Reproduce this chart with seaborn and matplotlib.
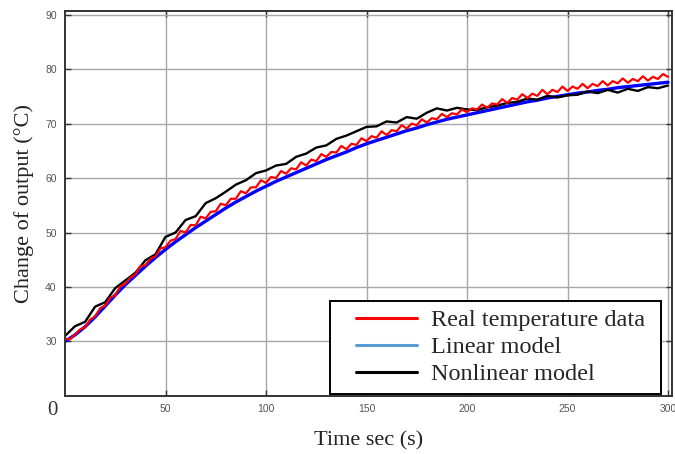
import numpy as np
import pandas as pd
import matplotlib
matplotlib.use("Agg")
import matplotlib.pyplot as plt
import seaborn as sns
from matplotlib.lines import Line2D
from matplotlib.legend_handler import HandlerLine2D

# ---------------------------------------------------
# Data
# ---------------------------------------------------
# models sampled every 5 s
time_s = list(range(0, 301, 5))

linear_model = [
    30.0, 31.2, 32.7, 34.5, 36.5, 38.5, 40.4, 42.1, 43.8, 45.4, 46.9,
    48.3, 49.6, 50.9, 52.1, 53.3, 54.5, 55.6, 56.6, 57.6, 58.5,
    59.4, 60.2, 61.0, 61.8, 62.6, 63.4, 64.1, 64.8, 65.6, 66.3,
    66.9, 67.5, 68.1, 68.7, 69.2, 69.8, 70.3, 70.8, 71.2, 71.6,
    72.0, 72.4, 72.8, 73.2, 73.6, 74.0, 74.3, 74.7, 75.0, 75.3,
    75.6, 75.8, 76.1, 76.3, 76.6, 76.8, 77.0, 77.2, 77.4, 77.6,
]

nonlinear_model = [
    31.0, 32.8, 33.6, 36.4, 37.2, 39.8, 41.2, 42.6, 44.9, 46.0, 49.2,
    50.0, 52.3, 53.0, 55.4, 56.3, 57.5, 58.8, 59.6, 60.9, 61.4,
    62.3, 62.6, 63.9, 64.5, 65.6, 66.0, 67.2, 67.8, 68.6, 69.4,
    69.5, 70.4, 70.2, 71.2, 70.9, 72.0, 72.8, 72.4, 72.9, 72.6,
    72.5, 73.0, 73.3, 73.8, 74.0, 74.6, 74.4, 75.1, 74.8, 75.2,
    75.3, 75.9, 75.6, 76.2, 75.7, 76.4, 76.0, 76.7, 76.5, 77.0,
]

# measured data sampled every 2.5 s
time_real = [i * 2.5 for i in range(121)]

real_temp = [
    30.5, 30.4, 31.3, 32.2, 32.6, 34.0, 34.6, 36.1, 36.6, 38.0,
    38.5, 40.1, 40.6, 41.7, 42.3, 43.8, 44.0, 45.2, 45.6, 47.1,
    47.3, 48.5, 48.8, 50.3, 50.0, 51.4, 51.3, 52.9, 52.6, 53.8,
    53.9, 55.3, 55.0, 56.2, 56.2, 57.6, 57.2, 58.3, 58.3, 59.6,
    59.1, 60.2, 60.0, 61.3, 60.8, 61.8, 61.6, 62.9, 62.3, 63.4,
    63.1, 64.4, 63.9, 64.8, 64.7, 65.9, 65.3, 66.3, 66.1, 67.3,
    66.8, 67.7, 67.4, 68.6, 67.9, 68.8, 68.6, 69.7, 69.1, 70.0,
    69.7, 70.8, 70.2, 71.0, 70.8, 71.8, 71.2, 71.9, 71.7, 72.6,
    72.1, 72.8, 72.6, 73.5, 72.9, 73.7, 73.5, 74.5, 73.8, 74.7,
    74.4, 75.4, 74.7, 75.5, 75.1, 76.2, 75.4, 76.2, 75.8, 76.8,
    76.0, 76.8, 76.4, 77.3, 76.5, 77.3, 76.9, 77.8, 77.0, 77.8,
    77.4, 78.3, 77.5, 78.2, 77.8, 78.7, 77.9, 78.6, 78.2, 79.1,
    78.6,
]

x_ticks = [50, 100, 150, 200, 250, 300]
y_ticks = [30, 40, 50, 60, 70, 80, 90]

df_models = pd.DataFrame({
    "t": time_s,
    "linear": linear_model,
    "nonlinear": nonlinear_model,
})
df_real = pd.DataFrame({"t": time_real, "real": real_temp})

# ---------------------------------------------------
# Style
# ---------------------------------------------------
sns.set_style("whitegrid")
serif = "Liberation Serif"
sans = "Liberation Sans"

fig = plt.figure(figsize=(6.75, 4.54), dpi=100)
ax = fig.add_axes([0.0963, 0.128, 0.8993, 0.848])

sns.lineplot(data=df_models, x="t", y="linear", ax=ax, color="#0000ff", lw=2.4)
sns.lineplot(data=df_models, x="t", y="nonlinear", ax=ax, color="black", lw=1.7)
sns.lineplot(data=df_real, x="t", y="real", ax=ax, color="#ff0000", lw=1.6)

ax.set_xlim(0, 302)
ax.set_ylim(20, 90.7)
ax.set_xticks(x_ticks)
ax.set_yticks(y_ticks)
ax.set_xticklabels([str(v) for v in x_ticks], fontsize=7.5, color="#555555", family=sans)
ax.set_yticklabels([str(v) for v in y_ticks], fontsize=7.5, color="#555555", family=sans)

ax.grid(True, color="#a8a8a8", lw=1.0)
ax.tick_params(direction="in", length=4, width=1, color="#333333",
               top=True, right=True, left=True, bottom=True, pad=6)
for s in ax.spines.values():
    s.set_color("#333333")
    s.set_linewidth(1.4)

ax.set_xlabel("Time sec (s)", fontsize=16, family=serif, color="#222222", labelpad=12)
ax.set_ylabel("Change of output (°C)", fontsize=16, family=serif, color="#222222", labelpad=8)
fig.text(0.077, 0.095, "0", fontsize=15, family=serif, color="#333333",
         ha="center", va="center")

handles = [
    Line2D([0], [0], color="#ff0000", lw=2.2),
    Line2D([0], [0], color="#5b9bd5", lw=2.2),
    Line2D([0], [0], color="black", lw=2.2),
]
labels = ["Real temperature data", "Linear model", "Nonlinear model"]
leg = ax.legend(handles, labels, loc="lower left", mode="expand",
                bbox_to_anchor=(0.4366, 0.005, 0.5453, 0),
                prop={"family": serif, "size": 17.5}, frameon=True, fancybox=False,
                handlelength=3.23, handletextpad=0.58, borderpad=0.35, labelspacing=0.21,
                borderaxespad=0, handler_map={Line2D: HandlerLine2D(xpad=0.72)})
leg.get_frame().set_edgecolor("black")
leg.get_frame().set_linewidth(1.4)
leg.get_frame().set_alpha(1)

fig.savefig("out.png", dpi=100)
